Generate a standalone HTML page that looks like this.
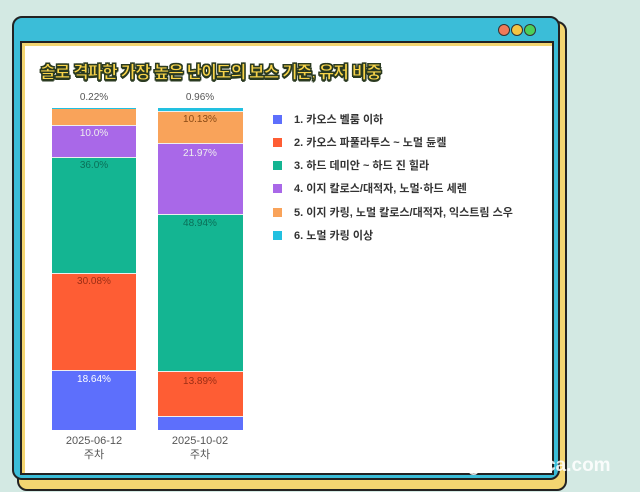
<!DOCTYPE html><html><head><meta charset="utf-8"><style>
body{margin:0;width:640px;height:492px;overflow:hidden;background:#d3e9e3;font-family:"Liberation Sans","Noto Sans CJK KR",sans-serif;position:relative}
.a{position:absolute}
.pct{position:absolute;font-size:10px;color:#555;text-align:center;width:84px}
.in{position:absolute;font-size:10px;text-align:center;width:84px}
.lg{position:absolute;left:273px;font-size:11px;font-weight:bold;color:#333;white-space:nowrap}
.lg i{display:inline-block;width:9px;height:9px;margin-right:12px;vertical-align:-1px}
</style></head><body>
<div class="a" style="left:17px;top:21px;width:546px;height:466px;background:#f3d571;border:2px solid #222;border-radius:10px"></div>
<div class="a" style="left:12px;top:16px;width:544px;height:460px;background:#3bbdd8;border:2px solid #222;border-radius:10px"></div>
<div class="a" style="left:498px;top:24px;width:10px;height:10px;border-radius:50%;background:#f07a5a;border:1px solid #333"></div>
<div class="a" style="left:511px;top:24px;width:10px;height:10px;border-radius:50%;background:#f5c542;border:1px solid #333"></div>
<div class="a" style="left:524px;top:24px;width:10px;height:10px;border-radius:50%;background:#4ccf5a;border:1px solid #333"></div>
<div class="a" style="left:20px;top:41px;width:530px;height:430px;background:#f3d571;border:2px solid #222"></div>
<div class="a" style="left:25px;top:46px;width:527px;height:427px;background:#fff"></div>
<div class="a" style="left:40px;top:58px;font-size:17px;font-weight:900;color:#f8d44a;-webkit-text-stroke:1px #2a3a20;text-shadow:1px 1px 0 #2a3a20,-1px 1px 0 #2a3a20,1px -1px 0 #2a3a20,-1px -1px 0 #2a3a20,0 2px 0 #2a3a20;letter-spacing:-1px">솔로 격파한 가장 높은 난이도의 보스 기준, 유저 비중</div>
<div class="pct" style="left:52px;top:92px">0.22%</div>
<div class="pct" style="left:158px;top:92px">0.96%</div>
<div class="a" style="left:52px;top:108px;width:84px;height:322px">
<div style="height:1px;background:#22c0e0"></div>
<div style="height:16px;background:#f9a35a"></div>
<div style="height:32px;background:#a968e8;border-top:1px solid #eee;box-sizing:border-box"></div>
<div style="height:116px;background:#14b592;border-top:1px solid #eee;box-sizing:border-box"></div>
<div style="height:97px;background:#fe5d34;border-top:1px solid #eee;box-sizing:border-box"></div>
<div style="height:60px;background:#5d6ffc;border-top:1px solid #eee;box-sizing:border-box"></div>
</div>
<div class="in" style="left:52px;top:128px;color:#eee">10.0%</div>
<div class="in" style="left:52px;top:160px;color:#0b6f58">36.0%</div>
<div class="in" style="left:52px;top:276px;color:#9b2e15">30.08%</div>
<div class="in" style="left:52px;top:374px;color:#fff">18.64%</div>
<div class="a" style="left:158px;top:108px;width:85px;height:322px">
<div style="height:3px;background:#22c0e0"></div>
<div style="height:32px;background:#f9a35a;border-top:1px solid #eee;box-sizing:border-box"></div>
<div style="height:71px;background:#a968e8;border-top:1px solid #eee;box-sizing:border-box"></div>
<div style="height:157px;background:#14b592;border-top:1px solid #eee;box-sizing:border-box"></div>
<div style="height:45px;background:#fe5d34;border-top:1px solid #eee;box-sizing:border-box"></div>
<div style="height:14px;background:#5d6ffc;border-top:1px solid #eee;box-sizing:border-box"></div>
</div>
<div class="in" style="left:158px;top:114px;color:#8a4a15">10.13%</div>
<div class="in" style="left:158px;top:148px;color:#eee">21.97%</div>
<div class="in" style="left:158px;top:218px;color:#0b6f58">48.94%</div>
<div class="in" style="left:158px;top:376px;color:#9b2e15">13.89%</div>
<div class="pct" style="left:52px;top:434px;font-size:11px;line-height:14px">2025-06-12<br>주차</div>
<div class="pct" style="left:158px;top:434px;font-size:11px;line-height:14px">2025-10-02<br>주차</div>
<div class="lg" style="top:111px"><i style="background:#5d6ffc"></i>1. 카오스 벨룸 이하</div>
<div class="lg" style="top:134px"><i style="background:#fe5d34"></i>2. 카오스 파풀라투스 ~ 노멀 듄켈</div>
<div class="lg" style="top:157px"><i style="background:#14b592"></i>3. 하드 데미안 ~ 하드 진 힐라</div>
<div class="lg" style="top:180px"><i style="background:#a968e8"></i>4. 이지 칼로스/대적자, 노멀·하드 세렌</div>
<div class="lg" style="top:204px"><i style="background:#f9a35a"></i>5. 이지 카링, 노멀 칼로스/대적자, 익스트림 스우</div>
<div class="lg" style="top:227px"><i style="background:#22c0e0"></i>6. 노멀 카링 이상</div>
<div class="a" style="left:468px;top:455px;font-size:19px;font-weight:bold;color:rgba(255,255,255,0.85)">gamemeca.com</div>
</body></html>
